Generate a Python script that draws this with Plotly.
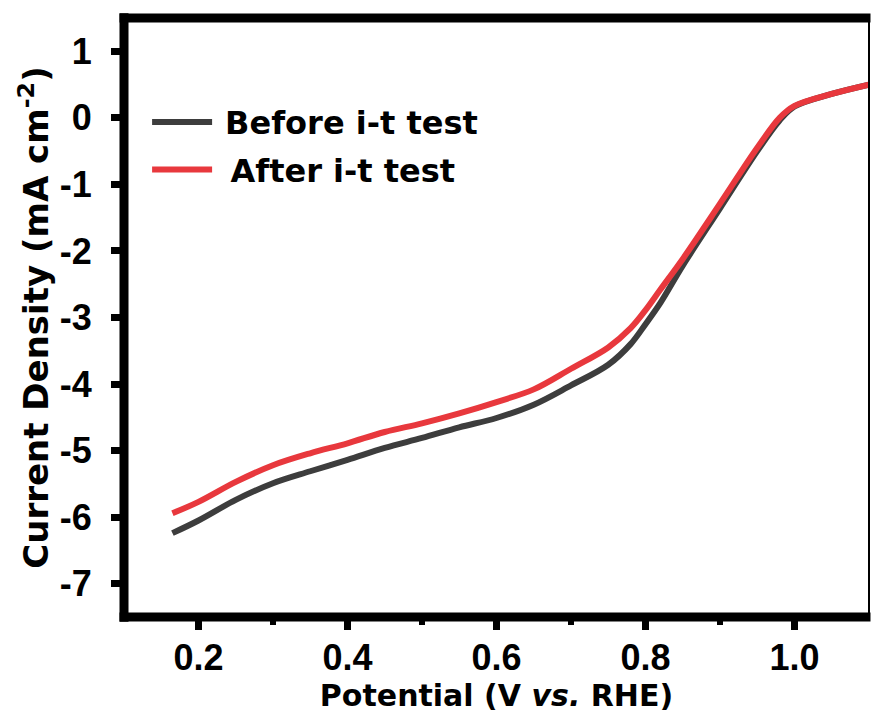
import plotly.graph_objects as go

potential = [0.165, 0.2, 0.25, 0.3, 0.35, 0.4, 0.45, 0.5, 0.55, 0.6, 0.65, 0.7,
             0.75, 0.78, 0.8, 0.82, 0.85, 0.9, 0.95, 0.98, 1.0, 1.05, 1.1]
before_it = [-6.24, -6.05, -5.74, -5.49, -5.31, -5.14, -4.96, -4.81, -4.65, -4.51,
             -4.31, -4.02, -3.71, -3.40, -3.10, -2.78, -2.22, -1.36, -0.50, -0.04, 0.17, 0.36, 0.50]
after_it = [-5.94, -5.77, -5.47, -5.22, -5.04, -4.89, -4.72, -4.59, -4.44, -4.27,
            -4.08, -3.77, -3.45, -3.16, -2.89, -2.58, -2.12, -1.29, -0.45, 0.0, 0.18, 0.36, 0.50]
x_ticks = [0.2, 0.4, 0.6, 0.8, 1.0]
x_minor = [0.3, 0.5, 0.7, 0.9]
y_ticks = [1, 0, -1, -2, -3, -4, -5, -6, -7]

TICK_FONT = dict(family="Liberation Sans, Arial", size=36, color="black", weight="bold")
TITLE_FONT = "DejaVu Sans"

fig = go.Figure()
fig.add_trace(go.Scatter(x=potential, y=before_it, mode="lines", name="\u2005Before i-t test",
                         legendgroup="a",
                         line=dict(color="#3d3d3d", width=6, shape="spline")))
fig.add_trace(go.Scatter(x=potential, y=after_it, mode="lines", name="\u2005\u2006After i-t test",
                         legendgroup="b",
                         line=dict(color="#e8383d", width=6, shape="spline")))

fig.update_layout(
    width=871, height=722,
    margin=dict(l=124, r=2, t=18, b=105),
    paper_bgcolor="white", plot_bgcolor="white",
    showlegend=True,
    legend=dict(x=0.031, y=0.872, xanchor="left", yanchor="top",
                font=dict(family=TITLE_FONT, size=32, color="black", weight="bold"),
                bgcolor="rgba(0,0,0,0)", itemwidth=60, tracegroupgap=3),
    xaxis=dict(range=[0.1, 1.1], tickvals=x_ticks, ticktext=[f"{v:.1f}" for v in x_ticks],
               showgrid=False, zeroline=False, showline=False,
               ticks="outside", ticklen=12, tickwidth=7, tickcolor="black",
               tickfont=TICK_FONT, ticklabelstandoff=-3,
               minor=dict(tickvals=x_minor, ticks="outside", ticklen=7,
                          tickwidth=6, tickcolor="black"),
               title=dict(text="Potential (V <i>vs.</i> RHE)",
                          font=dict(family=TITLE_FONT, size=30, color="black", weight="bold"),
                          standoff=7)),
    yaxis=dict(range=[-7.5, 1.5], tickvals=y_ticks, ticktext=[str(v) for v in y_ticks],
               showgrid=False, zeroline=False, showline=False,
               ticks="outside", ticklen=12, tickwidth=7, tickcolor="black",
               tickfont=TICK_FONT, ticklabelstandoff=12,
               title=dict(text="Current Density (mA cm<sup>-2</sup>)",
                          font=dict(family=TITLE_FONT, size=34, color="black", weight="bold"),
                          standoff=0)),
)

# frame: thick left/bottom/top, thin right
fig.add_shape(type="line", xref="paper", yref="paper", x0=0, x1=0, y0=-0.008, y1=1.008,
              line=dict(color="black", width=9), layer="above")
fig.add_shape(type="line", xref="paper", yref="paper", x0=-0.006, x1=1.002, y0=0, y1=0,
              line=dict(color="black", width=9), layer="above")
fig.add_shape(type="line", xref="paper", yref="paper", x0=-0.006, x1=1.002, y0=1, y1=1,
              line=dict(color="black", width=9), layer="above")
fig.add_shape(type="line", xref="paper", yref="paper", x0=1, x1=1, y0=0, y1=1,
              line=dict(color="black", width=2), layer="above")

fig.write_html("out.html", config={"displayModeBar": False},
               post_script="document.body.style.margin='0px';")
